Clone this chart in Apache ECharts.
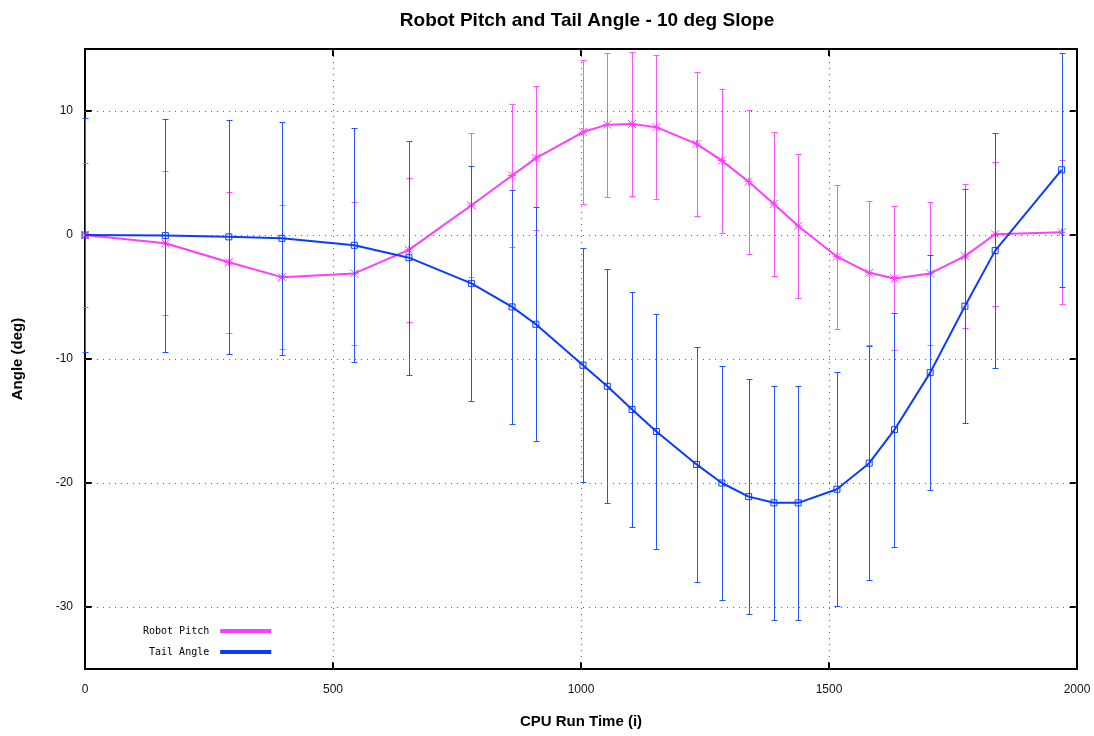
<!DOCTYPE html>
<html>
<head>
<meta charset="utf-8">
<script src="https://cdn.jsdelivr.net/npm/echarts@6/dist/echarts.min.js"></script>
<style>
  html, body { margin: 0; padding: 0; background: #fff; }
  #chart { width: 1094px; height: 736px; }
</style>
</head>
<body>
<div id="chart"></div>
<script>
// ---- data ----
var titleText = 'Robot Pitch and Tail Angle - 10 deg Slope';
var xName = 'CPU Run Time (i)';
var yName = 'Angle (deg)';
var seriesNames = ['Robot Pitch', 'Tail Angle'];

var times = [0, 162, 290, 397, 543, 653, 779, 861, 909, 1004, 1053, 1103, 1152,
             1233, 1284, 1338, 1389, 1438, 1516, 1581, 1632, 1704, 1774, 1835, 1969];

var pitch = [0, -0.67, -2.2, -3.4, -3.1, -1.2, 2.4, 4.8, 6.2, 8.3, 8.9, 8.95, 8.7,
             7.35, 6.0, 4.3, 2.5, 0.73, -1.75, -3.05, -3.5, -3.1, -1.7, 0.06, 0.22];
var pitchErr = [5.8, 5.8, 5.7, 5.8, 5.8, 5.8, 5.8, 5.8, 5.8, 5.8, 5.8, 5.8, 5.8,
                5.8, 5.8, 5.8, 5.8, 5.8, 5.8, 5.8, 5.8, 5.8, 5.8, 5.8, 5.8];

var tail = [0, -0.05, -0.15, -0.27, -0.83, -1.83, -3.9, -5.8, -7.2, -10.5, -12.2, -14.07, -15.85,
            -18.5, -20.0, -21.1, -21.6, -21.6, -20.5, -18.4, -15.7, -11.1, -5.74, -1.26, 5.26];
var tailErr = [9.4, 9.4, 9.45, 9.4, 9.45, 9.45, 9.45, 9.45, 9.45, 9.45, 9.45, 9.45, 9.45,
               9.45, 9.45, 9.45, 9.45, 9.45, 9.45, 9.45, 9.45, 9.45, 9.45, 9.45, 9.45];

var xTicks = [0, 500, 1000, 1500, 2000];
var yTicks = [-30, -20, -10, 0, 10];
var xGrid = [500, 1000, 1500];
var yGrid = [-30, -20, -10, 0, 10];

// ---- styling ----
var PINK = '#ff3cff';
var BLUE = '#0a3cff';
var PINK_ERR = '#ff55ff';
var BLUE_ERR = '#2452ff';

function pairs(xs, ys) {
  return xs.map(function (x, i) { return [x, ys[i]]; });
}
function errData(xs, ys, es) {
  return xs.map(function (x, i) { return [x, ys[i] - es[i], ys[i] + es[i]]; });
}
function errRenderer(color) {
  return function (params, api) {
    var x = api.value(0);
    var top = api.coord([x, api.value(2)]);
    var bot = api.coord([x, api.value(1)]);
    var cx = Math.round(top[0]) + 0.5;
    var ty = Math.round(top[1]) + 0.5;
    var by = Math.round(bot[1]) + 0.5;
    var hw = 3;
    var st = { stroke: color, lineWidth: 1, opacity: 1 };
    return {
      type: 'group',
      children: [
        { type: 'line', shape: { x1: cx, y1: ty, x2: cx, y2: by }, style: st },
        { type: 'line', shape: { x1: cx - hw, y1: ty, x2: cx + hw, y2: ty }, style: st },
        { type: 'line', shape: { x1: cx - hw, y1: by, x2: cx + hw, y2: by }, style: st }
      ]
    };
  };
}

var tickFont = { fontFamily: 'Liberation Sans', fontSize: 12, color: '#111' };
var frame = { show: true, onZero: false, lineStyle: { color: '#000', width: 2 } };
function plain(v) { return String(v); }

var chart = echarts.init(document.getElementById('chart'), null, { renderer: 'canvas' });
chart.setOption({
  animation: false,
  backgroundColor: '#fff',
  title: {
    text: titleText,
    left: 582, top: 6, textAlign: 'center',
    textStyle: { fontFamily: 'Liberation Sans', fontWeight: 'bold', fontSize: 19, color: '#000' }
  },
  grid: { left: 85, right: 17, top: 49, bottom: 67, containLabel: false },
  legend: {
    orient: 'vertical',
    left: 138, top: 621,
    align: 'right',
    itemWidth: 49, itemHeight: 2, itemGap: 11,
    icon: 'rect',
    selectedMode: false,
    textStyle: { fontFamily: 'DejaVu Sans Mono', fontSize: 10, color: '#000', padding: [0, 7, 0, 0] },
    data: [
      { name: seriesNames[0], itemStyle: { color: PINK } },
      { name: seriesNames[1], itemStyle: { color: BLUE } }
    ]
  },
  xAxis: [
    {
      type: 'value', min: 0, max: 2000, interval: 500, position: 'bottom',
      name: xName, nameLocation: 'middle', nameGap: 45,
      nameTextStyle: { fontFamily: 'Liberation Sans', fontWeight: 'bold', fontSize: 15, color: '#000' },
      axisLine: frame,
      axisTick: { show: true, inside: true, length: 7, lineStyle: { color: '#000', width: 2 } },
      axisLabel: Object.assign({ margin: 15, formatter: plain }, tickFont),
      splitLine: { show: false }
    },
    {
      type: 'value', min: 0, max: 2000, interval: 500, position: 'top',
      axisLine: frame,
      axisTick: { show: true, inside: true, length: 7, lineStyle: { color: '#000', width: 2 } },
      axisLabel: { show: false },
      splitLine: { show: false }
    }
  ],
  yAxis: [
    {
      type: 'value', min: -35, max: 15, position: 'left',
      name: yName, nameLocation: 'middle', nameGap: 60, nameRotate: 90,
      nameTextStyle: { fontFamily: 'Liberation Sans', fontWeight: 'bold', fontSize: 15, color: '#000' },
      axisLine: frame,
      axisTick: { show: true, inside: true, length: 7, customValues: yTicks, lineStyle: { color: '#000', width: 2 } },
      axisLabel: Object.assign({ margin: 12, customValues: yTicks, formatter: plain }, tickFont),
      splitLine: { show: false }
    },
    {
      type: 'value', min: -35, max: 15, position: 'right',
      axisLine: frame,
      axisTick: { show: true, inside: true, length: 7, customValues: yTicks, lineStyle: { color: '#000', width: 2 } },
      axisLabel: { show: false },
      splitLine: { show: false }
    }
  ],
  series: [
    {
      name: '__grid', type: 'line', data: [], z: 1, silent: true,
      markLine: {
        silent: true, symbol: ['none', 'none'], animation: false,
        label: { show: false },
        lineStyle: { type: [1, 5], color: '#666', width: 1 },
        emphasis: { disabled: true },
        data: yGrid.map(function (v) { return { yAxis: v }; })
          .concat(xGrid.map(function (v) { return { xAxis: v }; }))
      }
    },
    {
      name: seriesNames[0] + ' err', type: 'custom', z: 2, silent: true,
      renderItem: errRenderer(PINK_ERR),
      data: errData(times, pitch, pitchErr)
    },
    {
      name: seriesNames[0], type: 'line', z: 3, silent: true,
      data: pairs(times, pitch),
      symbol: 'path://M0,0L10,10M0,10L10,0M0,5L10,5M5,0L5,10',
      symbolSize: 8,
      showAllSymbol: true,
      itemStyle: { color: PINK, borderColor: PINK, borderWidth: 1 },
      lineStyle: { color: PINK, width: 2 },
      emphasis: { disabled: true }
    },
    {
      name: seriesNames[1] + ' err', type: 'custom', z: 4, silent: true,
      renderItem: errRenderer(BLUE_ERR),
      data: errData(times, tail, tailErr)
    },
    {
      name: seriesNames[1], type: 'line', z: 5, silent: true,
      data: pairs(times, tail),
      symbol: 'path://M0,0L10,0L10,10L0,10Z',
      symbolSize: 6,
      showAllSymbol: true,
      itemStyle: { color: 'none', borderColor: BLUE, borderWidth: 1 },
      lineStyle: { color: BLUE, width: 2 },
      emphasis: { disabled: true }
    }
  ]
});
</script>
</body>
</html>
